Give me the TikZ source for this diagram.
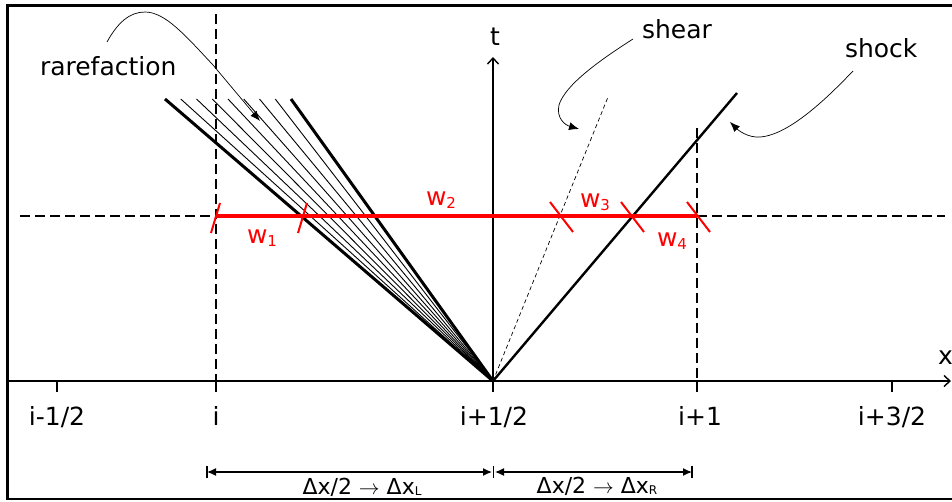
\documentclass[tikz,border=0pt]{standalone}
\usepackage{fontspec}
\setmainfont{DejaVu Sans}
\usetikzlibrary{arrows.meta}
\newcommand\lowsub[1]{\raisebox{-3pt}{\fontsize{15}{15}\selectfont #1}}
\newcommand\tinysub[1]{\raisebox{-1pt}{\fontsize{12}{12}\selectfont #1}}
\begin{document}
\begin{tikzpicture}[x=1pt,y=-1pt,
  lbl/.style={font=\fontsize{25}{28}\selectfont, inner sep=0pt, outer sep=0pt},
  smalllbl/.style={font=\fontsize{22}{24}\selectfont, inner sep=0pt, outer sep=0pt},
  rlbl/.style={lbl, text=red, anchor=base west},
  axis/.style={line width=1.4pt, -{Straight Barb[length=6pt,width=11pt]}},
  tickmark/.style={line width=1.4pt},
  griddash/.style={line width=2.4pt, dash pattern=on 10pt off 5pt},
  fanthick/.style={line width=3pt},
  fanthin/.style={line width=0.9pt},
  shearline/.style={line width=0.7pt, dash pattern=on 4pt off 3pt},
  shockline/.style={line width=2.4pt},
  redtick/.style={red, line width=2pt},
  note/.style={line width=0.7pt, -{Latex[length=10pt,width=8pt]}},
  dim/.style={line width=1.3pt, {Latex[length=9pt,width=8pt]}-{Latex[length=9pt,width=8pt]}},
  dimbar/.style={line width=1.3pt}]
\useasboundingbox (0,0) rectangle (952,501);
\fill[white] (0,0) rectangle (952,501);
% frame
\draw[line width=2.6pt] (960,5.5) -- (7.5,5.5) -- (7.5,499) -- (960,499);

% axes
\coordinate (O) at (493,381);
\coordinate (xs) at (8,381);
\coordinate (xe) at (951,381);
\coordinate (ttop) at (493,57);
\draw[axis] (xs) -- (xe);
\draw[axis] (O) -- (ttop);

% ticks and tick labels
\foreach \n/\x in {a/57,b/216,c/493,d/697,e/892}{
  \coordinate (tk\n) at (\x,381);
  \draw[tickmark] (tk\n) -- ++(0,11);
}
\node[lbl, anchor=base] (la) at (57,425) {i-1/2};
\node[lbl, anchor=base] (lb) at (216,425) {i};
\node[lbl, anchor=base] (lc) at (494,425) {i+1/2};
\node[lbl, anchor=base] (ld) at (700,425) {i+1};
\node[lbl, anchor=base] (le) at (892,425) {i+3/2};

% dashed grid
\coordinate (vlT) at (216,14);  \coordinate (vlB) at (216,381);
\coordinate (vrT) at (697,128); \coordinate (vrB) at (697,381);
\coordinate (hl1) at (20,216);  \coordinate (hl2) at (216,216);
\coordinate (hr1) at (697,216); \coordinate (hr2) at (945,216);
\draw[griddash] (vlT) -- (vlB);
\draw[griddash] (vrT) -- (vrB);
\draw[griddash] (hl1) -- (hl2);
\draw[griddash] (hr1) -- (hr2);

% rarefaction fan
\foreach \k in {0,...,8}{
  \coordinate (f\k) at ({165+15.75*\k},99);
}
\foreach \k in {1,...,7}{
  \draw[fanthin] (O) -- (f\k);
}
\draw[fanthick] (O) -- (f0);
\draw[fanthick] (O) -- (f8);

% shear and shock
\coordinate (sh) at (608,97);
\coordinate (sk) at (737,93);
\draw[shearline] (O) -- (sh);
\draw[shockline] (O) -- (sk);

% red cell line
\draw[red, line width=4pt] (hl2) -- (hr1);
\coordinate (c1) at (216,216);
\coordinate (c2) at (303,216);
\coordinate (c3) at (561,216);
\coordinate (c4) at (632,216);
\coordinate (c5) at (698,216);
\draw[redtick] (c1) ++(-5,17) -- ++(9,-30);
\draw[redtick] (c2) ++(-5,17) -- ++(9,-30);
\draw[redtick] (c3) ++(-11,-14) -- ++(23,30);
\draw[redtick] (c4) ++(-11,-14) -- ++(23,30);
\draw[redtick] (c5) ++(-11,-14) -- ++(23,30);
\node[rlbl] (w1) at (247,243) {w\lowsub{1}};
\node[rlbl] (w2) at (426,205) {w\lowsub{2}};
\node[rlbl] (w3) at (580,207) {w\lowsub{3}};
\node[rlbl] (w4) at (657,246) {w\lowsub{4}};

% labels
\node[lbl, anchor=base west] (rare) at (40,75) {rarefaction};
\node[lbl, anchor=base west] (shear) at (642,38) {shear};
\node[lbl, anchor=base west] (shock) at (845,57) {shock};
\node[lbl, anchor=base] (tl) at (495,45) {t};
\node[lbl, anchor=base west] (xl) at (938,364) {x};

% curved pointers
\coordinate (ra0) at (107,42);  \coordinate (ra1) at (260,121);
\coordinate (sa0) at (633,39);  \coordinate (sa1) at (579,129);
\coordinate (ka0) at (853,71);  \coordinate (ka1) at (730,122);
\draw[note] (ra0) .. controls (118,22) and (130,12) .. (145,12)
  .. controls (165,12) and (185,35) .. (213,65) -- (ra1);
\draw[note] (sa0) .. controls (600,60) and (565,85) .. (559,105)
  .. controls (556,118) and (565,125) .. (sa1);
\draw[note] (ka0) .. controls (830,95) and (790,135) .. (760,137)
  .. controls (748,138) and (738,130) .. (ka1);

% dimension arrows
\coordinate (d0) at (207,472);
\coordinate (d1) at (492,472);
\coordinate (d2) at (495,472);
\coordinate (d3) at (692,472);
\draw[dim] (d0) -- (d1);
\draw[dim] (d2) -- (d3);
\draw[dimbar] (d0) ++(0,-6) -- ++(0,12);
\draw[dimbar] (493.5,472) ++(0,-6) -- ++(0,12);
\draw[dimbar] (d3) ++(0,-6) -- ++(0,12);
\node[smalllbl, anchor=base] (dl) at (362,494) {Δx/2 \(\rightarrow\) Δx\tinysub{L}};
\node[smalllbl, anchor=base] (dr) at (597,493) {Δx/2 \(\rightarrow\) Δx\tinysub{R}};
\end{tikzpicture}
\end{document}
